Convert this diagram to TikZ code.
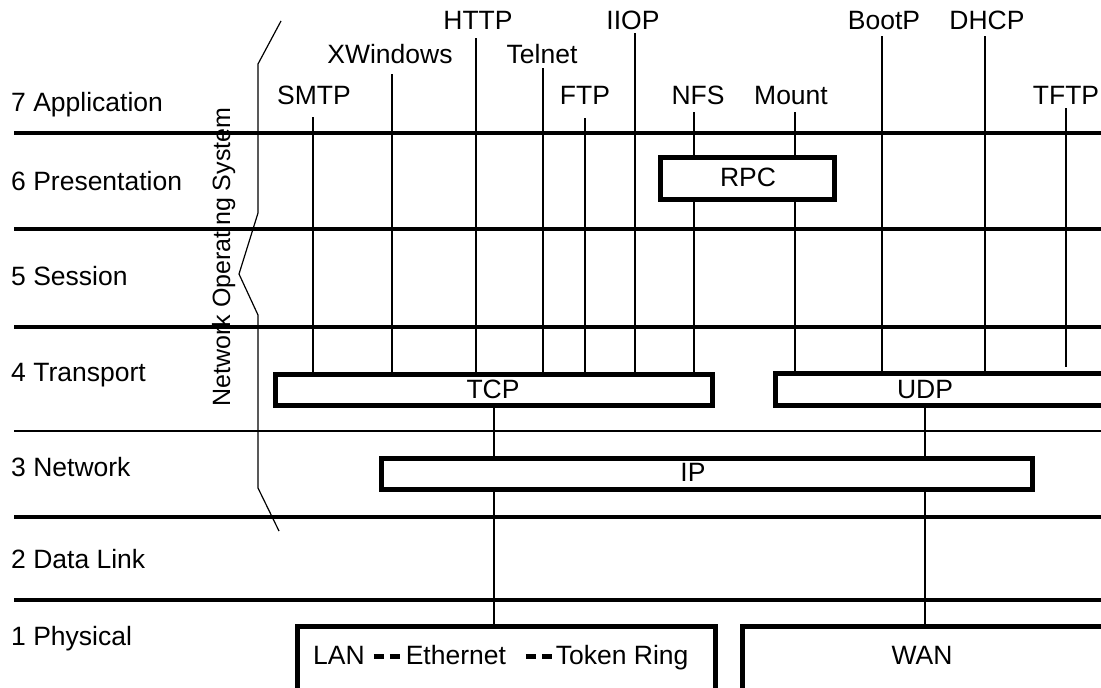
\documentclass[tikz,border=0pt]{standalone}
\usepackage{fontspec}
\setmainfont{Liberation Sans}
\newcommand{\dsh}{\rule[5.5pt]{10pt}{4.5pt}}
\begin{document}
\begin{tikzpicture}[x=1pt,y=-1pt,
  font=\fontsize{26.5}{31}\selectfont,
  thickrule/.style={line width=4.5pt},
  thinrule/.style={line width=2pt},
  conn/.style={line width=2.5pt},
  brace/.style={line width=1.2pt, line join=miter},
  box/.style={draw, line width=5pt, inner sep=0pt, fill=white},
  lbl/.style={inner sep=0pt, anchor=base},
  layer/.style={inner sep=0pt, anchor=base west}]
\useasboundingbox (0,0) rectangle (1101,688);
\clip (0,0) rectangle (1101,688);
\fill[white] (0,0) rectangle (1101,688);

% layer separators
\foreach \yy in {133,229,327,517,600} \draw[thickrule] (14,\yy) -- (1110,\yy);
\draw[thinrule] (14,431) -- (1110,431);

% layer names
\node[layer] (l7) at (11,111) {7 Application};
\node[layer] (l6) at (11,190) {6 Presentation};
\node[layer] (l5) at (11,285) {5 Session};
\node[layer] (l4) at (11,381) {4 Transport};
\node[layer] (l3) at (11,476) {3 Network};
\node[layer] (l2) at (11,568) {2 Data Link};
\node[layer] (l1) at (11,645) {1 Physical};

% network operating system bracket
\draw[brace] (281,21) -- (258,64) -- (258,213) -- (239,274) -- (258,315) -- (258,488) -- (279,531);
\node[rotate=90, anchor=base, inner sep=0pt, font=\fontsize{25}{30}\selectfont] (nos) at (230,257) {Network Operating System};

% boxes
\node[box, minimum width=174pt, minimum height=42pt] (rpc) at (747.5,178.5) {};
\node[box, minimum width=437pt, minimum height=31pt] (tcp) at (494,390) {};
\node[box, minimum width=349.5pt, minimum height=32pt] (udp) at (950.25,389.5) {};
\node[box, minimum width=651pt, minimum height=31pt] (ip) at (707,474) {};
\node[box, minimum width=417.5pt, minimum height=94pt] (lan) at (506.25,673) {};
\node[box, minimum width=388pt, minimum height=94pt] (wan) at (936,673) {};

% box texts
\node[lbl] (rpct) at (748,186) {RPC};
\node[lbl] (tcpt) at (493,398) {TCP};
\node[lbl] (udpt) at (925,398) {UDP};
\node[lbl] (ipt) at (693,481) {IP};
\node[inner sep=0pt, anchor=base west] (lant) at (313,664) {LAN\hspace{9pt}\dsh\hspace{6pt}\dsh\hspace{6pt}Ethernet\hspace{20pt}\dsh\hspace{6pt}\dsh\hspace{4pt}Token Ring};
\node[lbl] (want) at (922,664) {WAN};

% protocol names
\node[lbl] (smtp) at (314,104) {SMTP};
\node[lbl] (xwin) at (390,63) {XWindows};
\node[lbl] (http) at (478,30) {HTTP};
\node[lbl] (telnet) at (542,63) {Telnet};
\node[lbl] (ftp) at (585,104) {FTP};
\node[lbl] (iiop) at (633,30) {IIOP};
\node[lbl] (nfs) at (698,104) {NFS};
\node[lbl] (mount) at (791,104) {Mount};
\node[lbl] (bootp) at (884,29) {BootP};
\node[lbl] (dhcp) at (987,29) {DHCP};
\node[lbl] (tftp) at (1066,104) {TFTP};

% connector tops
\coordinate (smtpT) at (313,117);
\coordinate (xwinT) at (392,74);
\coordinate (httpT) at (476,38);
\coordinate (telnetT) at (543,68);
\coordinate (ftpT) at (585,118);
\coordinate (iiopT) at (635,33);
\coordinate (nfsT) at (694,112);
\coordinate (mountT) at (795,112);
\coordinate (bootpT) at (882,36);
\coordinate (dhcpT) at (985,36);
\coordinate (tftpT) at (1066,108);
\coordinate (tftpB) at (1066,367);
\coordinate (wanx) at (925,0);

% connectors to TCP
\draw[conn] (smtpT) -- (smtpT |- tcp.north);
\draw[conn] (xwinT) -- (xwinT |- tcp.north);
\draw[conn] (httpT) -- (httpT |- tcp.north);
\draw[conn] (telnetT) -- (telnetT |- tcp.north);
\draw[conn] (ftpT) -- (ftpT |- tcp.north);
\draw[conn] (iiopT) -- (iiopT |- tcp.north);
\draw[conn] (nfsT) -- (nfsT |- rpc.north);
\draw[conn] (nfsT |- rpc.south) -- (nfsT |- tcp.north);
% connectors to UDP
\draw[conn] (mountT) -- (mountT |- rpc.north);
\draw[conn] (mountT |- rpc.south) -- (mountT |- udp.north);
\draw[conn] (bootpT) -- (bootpT |- udp.north);
\draw[conn] (dhcpT) -- (dhcpT |- udp.north);
\draw[conn] (tftpT) -- (tftpB);
% lower connectors
\draw[conn] (tcp.south) -- (tcp.south |- ip.north);
\draw[conn] (wanx |- udp.south) -- (wanx |- ip.north);
\draw[conn] (tcp.south |- ip.south) -- (tcp.south |- lan.north);
\draw[conn] (wanx |- ip.south) -- (wanx |- wan.north);
\end{tikzpicture}
\end{document}
